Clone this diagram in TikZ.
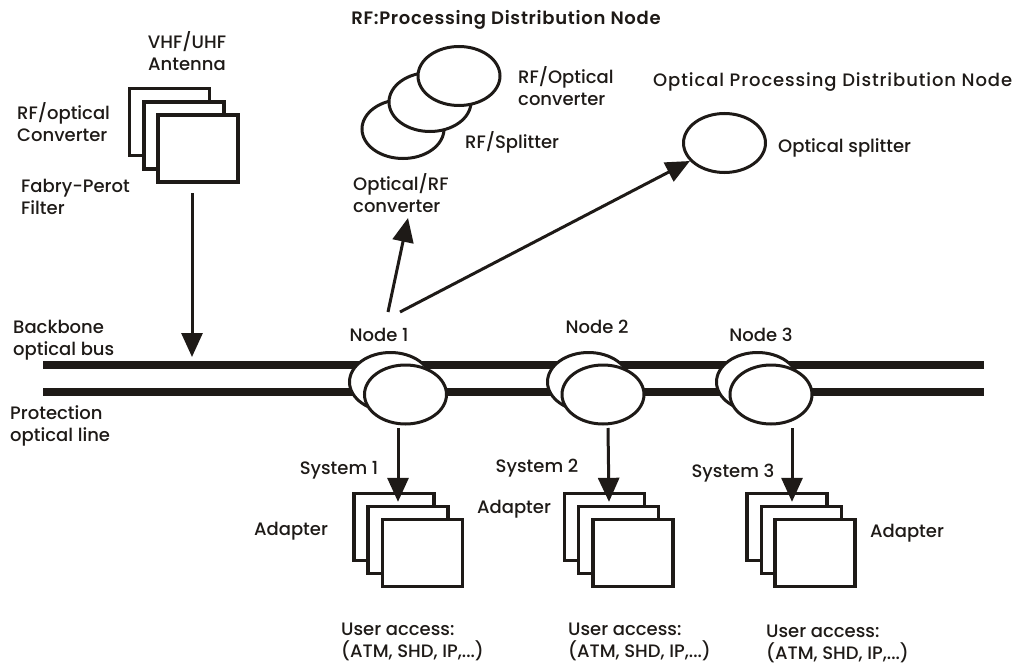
\documentclass[tikz,border=0pt]{standalone}
\usepackage{fontspec}
\setmainfont{Poppins}[UprightFont=* Medium, BoldFont=* SemiBold]
\usetikzlibrary{arrows.meta,shapes.geometric,calc}
\definecolor{ink}{RGB}{30,26,23}
\begin{document}
\begin{tikzpicture}[x=1pt,y=-1pt,
  every node/.style={font=\fontsize{18}{22}\selectfont, text=ink},
  lbl/.style={inner sep=0pt, align=left},
  clbl/.style={inner sep=0pt, align=center},
  wide/.style={font=\fontsize{18}{22}\selectfont\addfontfeatures{LetterSpace=5}},
  widebold/.style={font=\fontsize{18}{22}\selectfont\bfseries\addfontfeatures{LetterSpace=4}},
  card/.style={draw=ink, line width=3.3pt, fill=white, minimum width=80pt, minimum height=67pt, inner sep=0pt},
  oval/.style={ellipse, draw=ink, line width=3pt, fill=white, minimum width=82pt, minimum height=59pt, inner sep=0pt},
  arr/.style={draw=ink, line width=3pt, -{Triangle[length=24pt,width=21pt]}},
  bus/.style={draw=ink, line width=7.5pt}]
\useasboundingbox (0,0) rectangle (1018,666);

% backbone and protection lines
\coordinate (bL1) at (43,365); \coordinate (bR1) at (984,365);
\coordinate (bL2) at (43,392); \coordinate (bR2) at (984,392);
\draw[bus] (bL1) -- (bR1);
\draw[bus] (bL2) -- (bR2);

% antenna stack
\node[card] (a1) at (169.5,122) {};
\node[card] (a2) at (184,135.5) {};
\node[card] (a3) at (198,148.5) {};
\node[clbl] (antlbl) at (187,51) {VHF/UHF\\Antenna};
\node[lbl, anchor=west] (rfoc) at (17,122) {RF/optical\\Converter};
\node[lbl, anchor=west] (fp) at (21,197) {Fabry-Perot\\Filter};
\coordinate (antin) at (192,357);
\draw[arr] ([xshift=-6pt,yshift=-9.5pt]a3.south) -- (antin);

\node[lbl, anchor=west] (bb) at (13,340) {Backbone\\optical bus};
\node[lbl, anchor=west] (prot) at (10,426) {Protection\\optical line};

% bus nodes
\node[oval] (n1b) at (390.5,382) {};
\node[oval] (n1f) at (405.5,394.5) {};
\node[oval] (n2b) at (588.5,382) {};
\node[oval] (n2f) at (603,394.5) {};
\node[oval] (n3b) at (757.5,382) {};
\node[oval] (n3f) at (771,394.5) {};
\node[clbl] (n1l) at (379,335) {Node 1};
\node[clbl] (n2l) at (597,327) {Node 2};
\node[clbl] (n3l) at (761,335) {Node 3};

% systems
\node[card] (s1b) at (394,527) {};
\node[card] (s1m) at (408,540) {};
\node[card] (s1f) at (422.5,553) {};
\node[card] (s2b) at (604.5,527) {};
\node[card] (s2m) at (618.5,540) {};
\node[card] (s2f) at (633,553) {};
\node[card] (s3b) at (787,527) {};
\node[card] (s3m) at (801.5,540) {};
\node[card] (s3f) at (815,553) {};

\draw[arr] ([xshift=-7.5pt,yshift=-2.5pt]n1f.south) -- ([xshift=-10pt,yshift=3pt]s1m.north);
\draw[arr] ([xshift=5pt,yshift=-2.5pt]n2f.south) -- ([xshift=-9.5pt,yshift=3pt]s2m.north);
\draw[arr] ([xshift=21pt,yshift=-2.5pt]n3f.south) -- ([xshift=-9.5pt,yshift=3pt]s3m.north);

\node[clbl] (sy1) at (339,470) {System 1};
\node[clbl] (sy2) at (537,468) {System 2};
\node[clbl] (sy3) at (733,473) {System 3};
\node[clbl] (ad1) at (291,531) {Adapter};
\node[clbl] (ad2) at (514,509) {Adapter};
\node[clbl] (ad3) at (907,533) {Adapter};
\node[lbl, anchor=west] (ua1) at (341,642) {User access:\\(ATM, SHD, IP,...)};
\node[lbl, anchor=west] (ua2) at (568,642) {User access:\\(ATM, SHD, IP,...)};
\node[lbl, anchor=west] (ua3) at (766,644) {User access:\\(ATM, SHD, IP,...)};

% RF processing distribution node
\node[clbl, widebold] (rftitle) at (506,20) {RF:Processing Distribution Node};
\node[oval] (r1) at (403,129) {};
\node[oval] (r2) at (430,102) {};
\node[oval] (r3) at (459,76) {};
\node[lbl, anchor=west] (rfo) at (518,86) {RF/Optical\\converter};
\node[lbl, anchor=west] (rfs) at (465,142) {RF/Splitter};
\node[lbl, anchor=west] (orf) at (353,193) {Optical/RF\\converter};

% optical processing distribution node
\node[lbl, wide, anchor=west] (optitle) at (653,82) {Optical Processing Distribution Node};
\node[oval] (os) at (724.5,143) {};
\node[lbl, anchor=west] (osl) at (778,148) {Optical splitter};

\coordinate (up1) at (388,312);
\coordinate (up2) at (400,312);
\coordinate (rftip) at (408,218);
\draw[arr] (up1) -- (rftip);
\draw[arr] (up2) -- (os);
\end{tikzpicture}
\end{document}
